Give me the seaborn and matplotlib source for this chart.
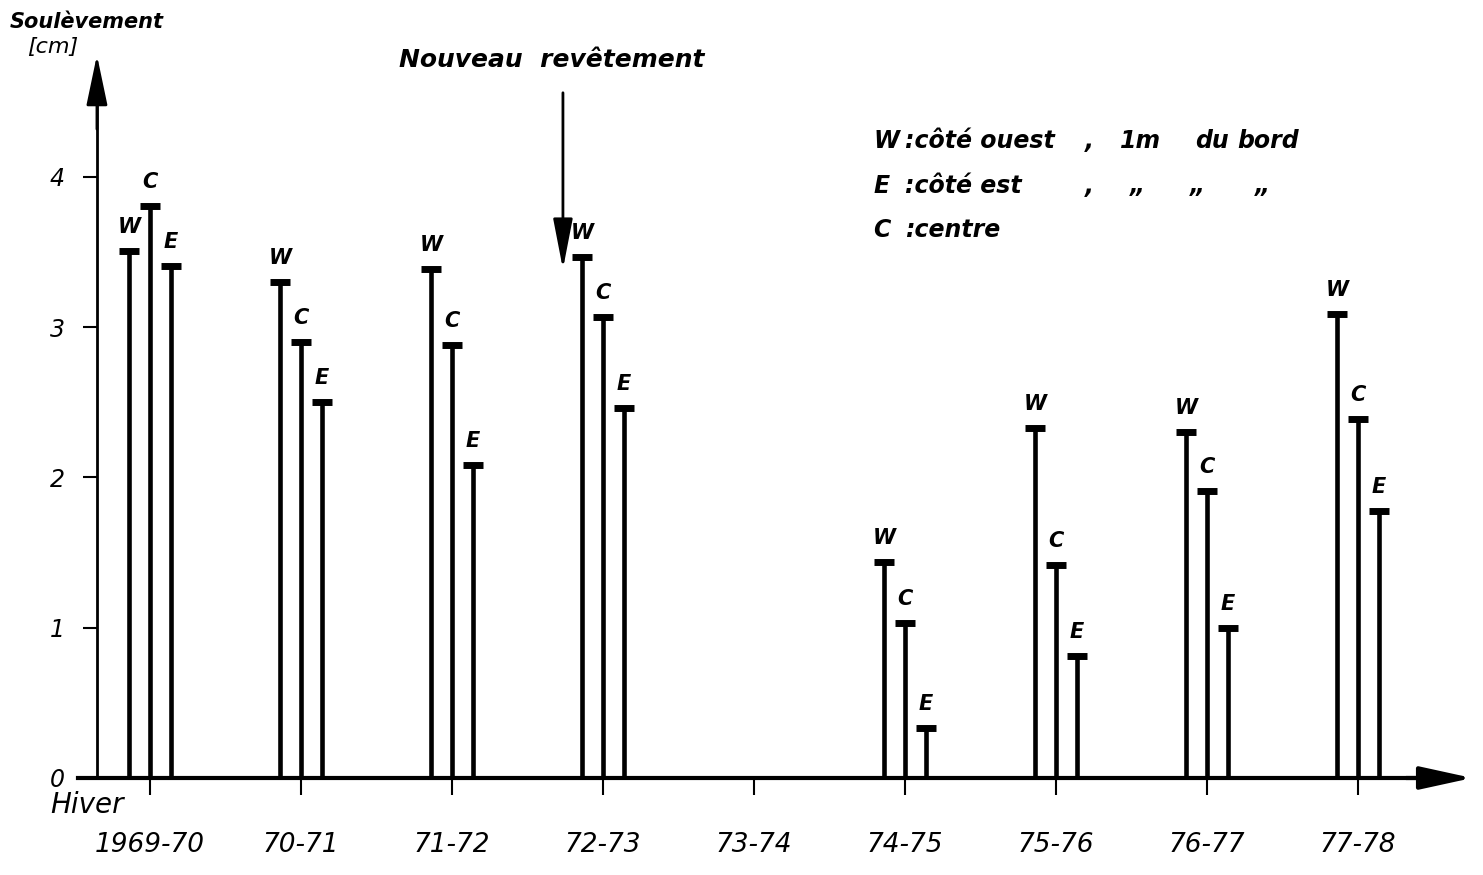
import pandas as pd
import seaborn as sns
import matplotlib.pyplot as plt

# Data: soulèvement (cm) per winter, three measuring points
seasons = ["1969-70", "70-71", "71-72", "72-73", "73-74", "74-75", "75-76", "76-77", "77-78"]
sides = ["W", "C", "E"]
west = [3.51, 3.30, 3.39, 3.47, None, 1.44, 2.33, 2.30, 3.09]
centre = [3.81, 2.90, 2.88, 3.07, None, 1.03, 1.42, 1.91, 2.39]
east = [3.41, 2.50, 2.08, 2.46, None, 0.33, 0.81, 1.00, 1.78]
yticks = [0, 1, 2, 3, 4]

rows = []
for side, vals in zip(sides, [west, centre, east]):
    for s, v in zip(seasons, vals):
        if v is not None:
            rows.append({"hiver": s, "cote": side, "cm": v})
df = pd.DataFrame(rows)

sns.set_style("white")
plt.rcParams['font.family'] = ['DejaVu Sans']
plt.rcParams['text.color'] = 'black'
plt.rcParams['xtick.color'] = 'black'
plt.rcParams['ytick.color'] = 'black'

fig = plt.figure(figsize=(14.83, 8.75), dpi=100)
ax = fig.add_axes([0, 0, 1, 1])
ax.patch.set_alpha(0)

sns.barplot(data=df, x="hiver", y="cm", hue="cote", order=seasons, hue_order=sides,
            palette=["black"] * 3, saturation=1, width=0.42, gap=0.73,
            errorbar=None, legend=False, ax=ax)

# T-shaped caps and letter above every bar
for side, cont in zip(sides, ax.containers):
    for p in cont.patches:
        h = p.get_height()
        if not h or h != h:
            continue
        x = p.get_x() + p.get_width() / 2
        ax.plot([x - 0.065, x + 0.065], [h, h], color="black", lw=5, solid_capstyle="butt")
        ax.text(x, h + 0.16, side, ha="center", va="center", fontsize=15,
                fontstyle="italic", fontweight="bold")

ax.set_xlim(-0.993, 8.828)
ax.set_ylim(-0.6456, 5.178)
ax.set_xlabel("")
ax.set_ylabel("")

# axes with arrows
for sp in ["top", "right"]:
    ax.spines[sp].set_visible(False)
ax.spines["left"].set_position(("data", -0.351))
ax.spines["left"].set_bounds(0, 4.5)
ax.spines["left"].set_linewidth(2)
ax.spines["bottom"].set_position(("data", 0))
ax.spines["bottom"].set_bounds(-0.477, 8.5)
ax.spines["bottom"].set_linewidth(3)
ax.spines["left"].set_color("black")
ax.spines["bottom"].set_color("black")

ax.annotate("", xy=(-0.351, 4.83), xytext=(-0.351, 4.3),
            arrowprops=dict(arrowstyle="-|>,head_length=3.1,head_width=0.65",
                            mutation_scale=10, color="black", lw=2))
ax.annotate("", xy=(8.775, 0), xytext=(8.3, 0),
            arrowprops=dict(arrowstyle="-|>,head_length=3.2,head_width=0.7",
                            mutation_scale=10, color="black", lw=3))

ax.set_yticks(yticks, [str(t) for t in yticks], fontsize=17, fontstyle="italic")
ax.set_xticks(range(len(seasons)), seasons, fontsize=19, fontstyle="italic")
ax.tick_params(axis="y", left=True, direction="out", length=10, width=1.5, pad=13)
ax.tick_params(axis="x", bottom=True, direction="out", length=12, width=1.5, pad=27)

# new pavement marker
ax.annotate("", xy=(2.735, 3.368), xytext=(2.735, 4.579),
            arrowprops=dict(arrowstyle="-|>,head_length=3.1,head_width=0.6",
                            mutation_scale=10, color="black", lw=2))
fig.text(552 / 1483, 1 - 60 / 875, "Nouveau  revêtement", ha="center", va="center",
         fontsize=18, fontstyle="italic", fontweight="bold")

# axis titles
fig.text(10 / 1483, 1 - 22 / 875, "Soulèvement", ha="left", va="center",
         fontsize=15, fontstyle="italic", fontweight="bold")
fig.text(27 / 1483, 1 - 47 / 875, "[cm]", ha="left", va="center",
         fontsize=16, fontstyle="italic")
fig.text(50 / 1483, 1 - 805 / 875, "Hiver", ha="left", va="center",
         fontsize=20, fontstyle="italic")

# key
kw = dict(va="center", fontsize=17, fontstyle="italic", fontweight="bold")
key = [
    (141, [(873, "W"), (905, ":côté ouest"), (1085, ","), (1120, "1m"), (1195, "du"), (1237, "bord")]),
    (186, [(873, "E"), (905, ":côté est"), (1085, ","), (1130, "„"), (1190, "„"), (1255, "„")]),
    (230, [(873, "C"), (905, ":centre")]),
]
for ypx, parts in key:
    for xpx, txt in parts:
        fig.text(xpx / 1483, 1 - ypx / 875, txt, ha="left", **kw)

fig.savefig("out.png", dpi=100)
